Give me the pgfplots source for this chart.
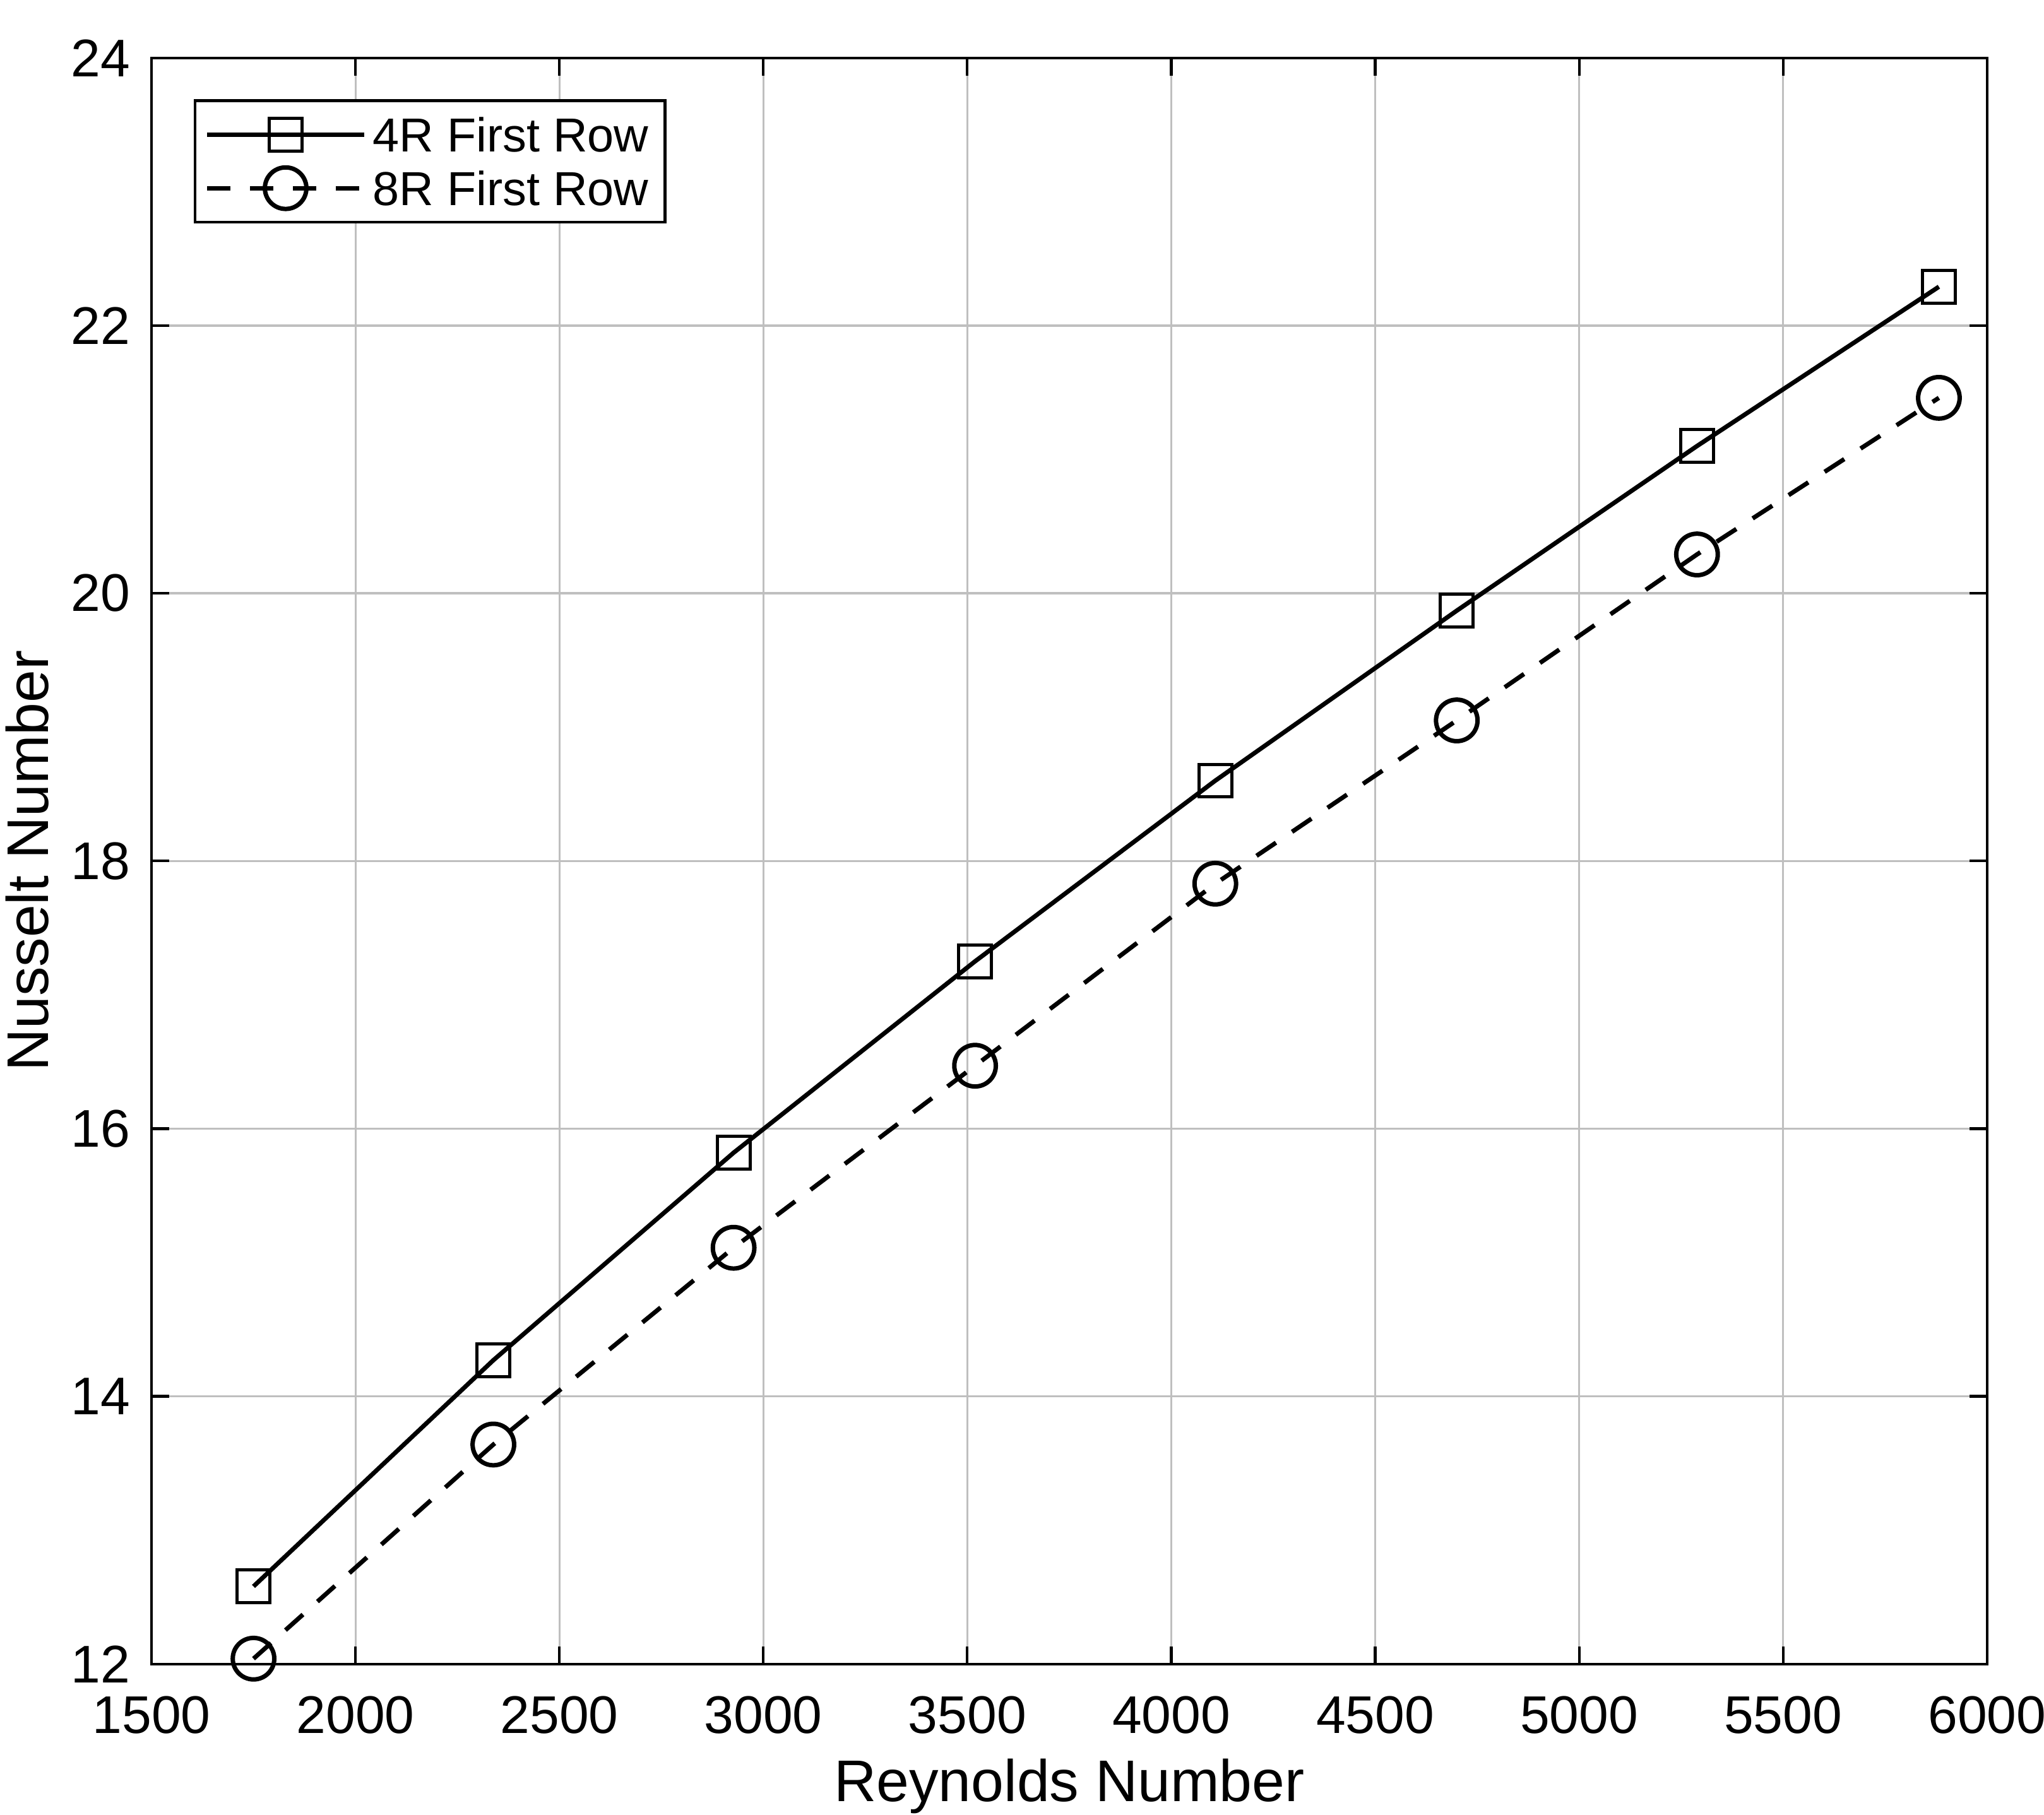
\documentclass[border=0pt]{standalone}
\usepackage{pgfplots}
\pgfplotsset{compat=1.18}
\usepackage{fontspec}
\setmainfont{Liberation Sans}
\begin{document}
\begin{tikzpicture}
\begin{axis}[
  name=ax,
  scale only axis,
  width=415.4pt, height=363.6pt,
  xmin=1500, xmax=6000, ymin=12, ymax=24,
  xtick={1500,2000,...,6000}, ytick={12,14,...,24},
  /pgf/number format/assume math mode=true,
  /pgf/number format/1000 sep={},
  tick label style={font=\fontsize{12}{14}\selectfont},
  xticklabel style={anchor=base, yshift=-15.7pt},
  yticklabel style={anchor=east, xshift=-1.3pt},
  label style={font=\fontsize{13.3}{15}\selectfont},
  xlabel={Reynolds Number}, ylabel={Nusselt Number},
  xlabel style={at={(axis description cs:0.5,0)}, anchor=base, yshift=-31.1pt},
  ylabel style={at={(axis description cs:0,0.5)}, anchor=base, yshift=23.4pt},
  grid=major,
  major grid style={line width=0.47pt, draw=black!25},
  tick align=inside, major tick length=4pt,
  tick style={line width=0.6pt, black},
  axis line style={line width=0.6pt},
  legend style={at={(axis description cs:0,1)}, anchor=north west, xshift=9.6pt, yshift=-9.4pt,
    draw=black, line width=0.6pt, font=\fontsize{10.8}{12}\selectfont,
    inner xsep=2.2pt, inner ysep=1.65pt, row sep=0pt,
    nodes={inner xsep=1.5pt, inner ysep=0pt, text height=9.92pt, text depth=2.18pt},
    cells={anchor=west}},
  legend image code/.code={\draw[mark repeat=2,mark phase=2] plot coordinates {(0pt,0pt) (17.75pt,0pt) (35.5pt,0pt)};},
]
\addplot[black, line width=1pt, mark=square, mark size=3.7pt, mark options={solid, fill=white, line width=0.72pt}] coordinates {
(1750,12.58) (2338,14.27) (2927,15.82) (3519,17.25) (4108,18.60) (4700,19.87) (5289,21.10) (5882,22.29)
};
\addlegendentry{4R First Row}
\addplot[black, line width=1pt, dash pattern=on 5.3pt off 4.4pt, mark=o, mark size=4.7pt, mark options={solid, fill=white, line width=1pt}] coordinates {
(1750,12.04) (2338,13.64) (2927,15.11) (3519,16.47) (4108,17.83) (4700,19.05) (5289,20.29) (5882,21.46)
};
\addlegendentry{8R First Row}
\end{axis}
\pgfresetboundingbox
\path[use as bounding box] ([xshift=-34.3pt,yshift=-34.1pt]ax.south west) rectangle ([xshift=12.9pt,yshift=13.1pt]ax.north east);
\end{tikzpicture}
\end{document}
